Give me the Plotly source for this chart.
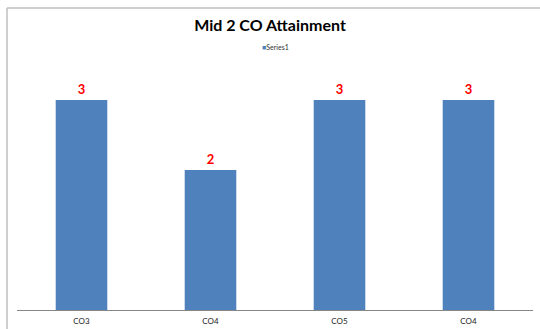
import plotly.graph_objects as go

categories = ["CO3", "CO4", "CO5", "CO4"]
values = [3, 2, 3, 3]
series_name = "Series1"
title_text = "Mid 2 CO Attainment"

positions = list(range(len(categories)))

fig = go.Figure()
fig.add_trace(go.Bar(
    x=positions, y=values, name=series_name,
    marker=dict(color="#4f81bd", line=dict(width=0)),
    width=0.4,
    text=[str(v) for v in values],
    textposition="outside",
    textfont=dict(color="#ff0000", size=13, family="Lato"),
    texttemplate="<b>%{text}</b>",
    cliponaxis=False,
    showlegend=False,
))

fig.update_layout(
    width=540, height=329,
    margin=dict(l=17, r=7, t=65, b=19),
    paper_bgcolor="white", plot_bgcolor="white",
    title=dict(text=f"<b>{title_text}</b>", x=0.5, xanchor="center",
               y=1 - 25/329, yanchor="middle",
               font=dict(family="Lato", size=16, color="#000000")),
    xaxis=dict(range=[-0.5, len(categories) - 0.5], tickvals=positions, ticktext=categories,
               showline=True, linecolor="#868686", linewidth=1, ticks="",
               showgrid=False, zeroline=False, ticklabelstandoff=3, automargin=False,
               tickfont=dict(family="Lato", size=8, color="#222222")),
    yaxis=dict(range=[0, 3.5], visible=False, showgrid=False, zeroline=False),
    annotations=[dict(
        text=f"<span style='color:#4f81bd'>■</span>{series_name}",
        xref="paper", yref="paper", x=0.5, y=(310 - 47) / 245,
        xanchor="center", yanchor="middle", showarrow=False,
        font=dict(family="Lato", size=7, color="#333333"),
    )],
    shapes=[
        dict(type="line", xref="paper", yref="paper",
             x0=(7 - 17) / 516, x1=(7 - 17) / 516, y0=(310 - 8) / 245, y1=(310 - 340) / 245,
             line=dict(color="#bfbfbf", width=1.5)),
        dict(type="line", xref="paper", yref="paper",
             x0=(7 - 17) / 516, x1=(560 - 17) / 516, y0=(310 - 8) / 245, y1=(310 - 8) / 245,
             line=dict(color="#bfbfbf", width=1.5)),
    ],
)

fig.write_html("out.html")
